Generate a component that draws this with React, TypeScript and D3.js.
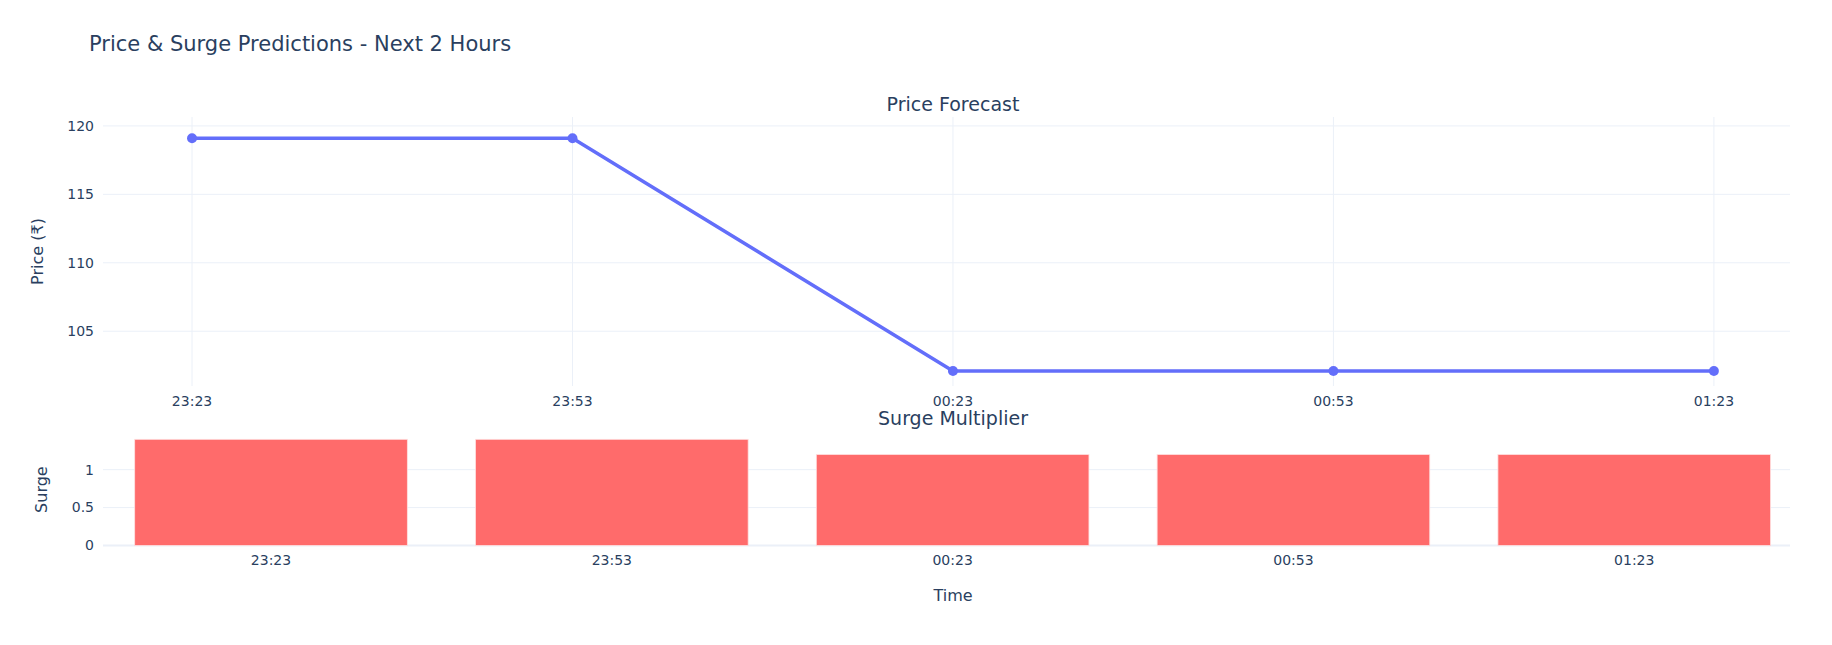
import { useEffect, useRef } from "react";
import * as d3 from "d3";

const times = ["23:23", "23:53", "00:23", "00:53", "01:23"];
const prices = [119.1, 119.1, 102.1, 102.1, 102.1];
const surges = [1.4, 1.4, 1.2, 1.2, 1.2];
const priceTicks = [105, 110, 115, 120];
const surgeTicks = [0, 0.5, 1];

const W = 1832;
const H = 645;
const TEXT = "#2a3f5f";
const GRID = "#ebf0f8";
const FONT = "'DejaVu Sans', Verdana, sans-serif";

export default function App() {
  const ref = useRef<SVGSVGElement>(null);

  useEffect(() => {
    if (!ref.current) return;
    const svg = d3.select(ref.current);
    svg.selectAll("*").remove();

    const left = 103;
    const right = 1790;

    // Title
    svg.append("text").attr("x", 89).attr("y", 51).attr("fill", TEXT)
      .attr("font-size", 21).attr("font-family", FONT)
      .text("Price & Surge Predictions - Next 2 Hours");

    // ---- Price Forecast ----
    const x = d3.scaleLinear().domain([-0.234, 4.2]).range([left, right]);
    const y = d3.scaleLinear().domain([101, 120.65]).range([386, 117]);

    const g1 = svg.append("g");
    g1.selectAll(".hgrid").data(priceTicks).join("line")
      .attr("x1", left).attr("x2", right)
      .attr("y1", (d) => y(d)).attr("y2", (d) => y(d))
      .attr("stroke", GRID).attr("stroke-width", 1);
    g1.selectAll(".vgrid").data(times).join("line")
      .attr("x1", (_, i) => x(i)).attr("x2", (_, i) => x(i))
      .attr("y1", 117).attr("y2", 386)
      .attr("stroke", GRID).attr("stroke-width", 1);
    g1.selectAll(".ytick").data(priceTicks).join("text")
      .attr("x", left - 9).attr("y", (d) => y(d)).attr("dy", "0.35em")
      .attr("text-anchor", "end").attr("fill", TEXT).attr("font-size", 14)
      .attr("font-family", FONT).text((d) => d);
    g1.selectAll(".xtick").data(times).join("text")
      .attr("x", (_, i) => x(i)).attr("y", 406)
      .attr("text-anchor", "middle").attr("fill", TEXT).attr("font-size", 14)
      .attr("font-family", FONT).text((d) => d);

    const line = d3.line<number>().x((_, i) => x(i)).y((d) => y(d));
    g1.append("path").datum(prices).attr("d", line)
      .attr("fill", "none").attr("stroke", "#636efa").attr("stroke-width", 3.5);
    g1.selectAll(".pt").data(prices).join("circle")
      .attr("cx", (_, i) => x(i)).attr("cy", (d) => y(d)).attr("r", 5)
      .attr("fill", "#636efa");

    svg.append("text").attr("x", 953).attr("y", 111)
      .attr("text-anchor", "middle").attr("fill", TEXT).attr("font-size", 19)
      .attr("font-family", FONT).text("Price Forecast");
    svg.append("text").attr("transform", `translate(43,${(117 + 386) / 2}) rotate(-90)`)
      .attr("text-anchor", "middle").attr("fill", TEXT).attr("font-size", 16)
      .attr("font-family", FONT).text("Price (₹)");

    // ---- Surge Multiplier ----
    const xb = d3.scaleLinear().domain([-0.493, 4.457]).range([left, right]);
    const half = 0.4;
    const yb = d3.scaleLinear().domain([0, 1.474]).range([545.5, 433.7]);

    const g2 = svg.append("g");
    g2.selectAll(".hgrid").data(surgeTicks).join("line")
      .attr("x1", left).attr("x2", right)
      .attr("y1", (d) => yb(d)).attr("y2", (d) => yb(d))
      .attr("stroke", GRID).attr("stroke-width", (d) => (d === 0 ? 2 : 1));
    g2.selectAll(".bar").data(surges).join("rect")
      .attr("x", (_, i) => xb(i - half)).attr("width", xb(half) - xb(-half))
      .attr("y", (d) => yb(d)).attr("height", (d) => yb(0) - yb(d))
      .attr("fill", "#ff6b6b").attr("stroke", "#ffe0e0").attr("stroke-width", 0.8);
    g2.selectAll(".ytick").data(surgeTicks).join("text")
      .attr("x", left - 9).attr("y", (d) => yb(d)).attr("dy", "0.35em")
      .attr("text-anchor", "end").attr("fill", TEXT).attr("font-size", 14)
      .attr("font-family", FONT).text((d) => d);
    g2.selectAll(".xtick").data(times).join("text")
      .attr("x", (_, i) => xb(i)).attr("y", 565)
      .attr("text-anchor", "middle").attr("fill", TEXT).attr("font-size", 14)
      .attr("font-family", FONT).text((d) => d);

    svg.append("text").attr("x", 953).attr("y", 425)
      .attr("text-anchor", "middle").attr("fill", TEXT).attr("font-size", 19)
      .attr("font-family", FONT).text("Surge Multiplier");
    svg.append("text").attr("transform", `translate(47,${(433.7 + 545.5) / 2}) rotate(-90)`)
      .attr("text-anchor", "middle").attr("fill", TEXT).attr("font-size", 16)
      .attr("font-family", FONT).text("Surge");
    svg.append("text").attr("x", 953).attr("y", 601)
      .attr("text-anchor", "middle").attr("fill", TEXT).attr("font-size", 16)
      .attr("font-family", FONT).text("Time");
  }, []);

  return (
    <svg ref={ref} width={W} height={H}
      style={{ position: "absolute", left: 0, top: 0, background: "#fff" }} />
  );
}
